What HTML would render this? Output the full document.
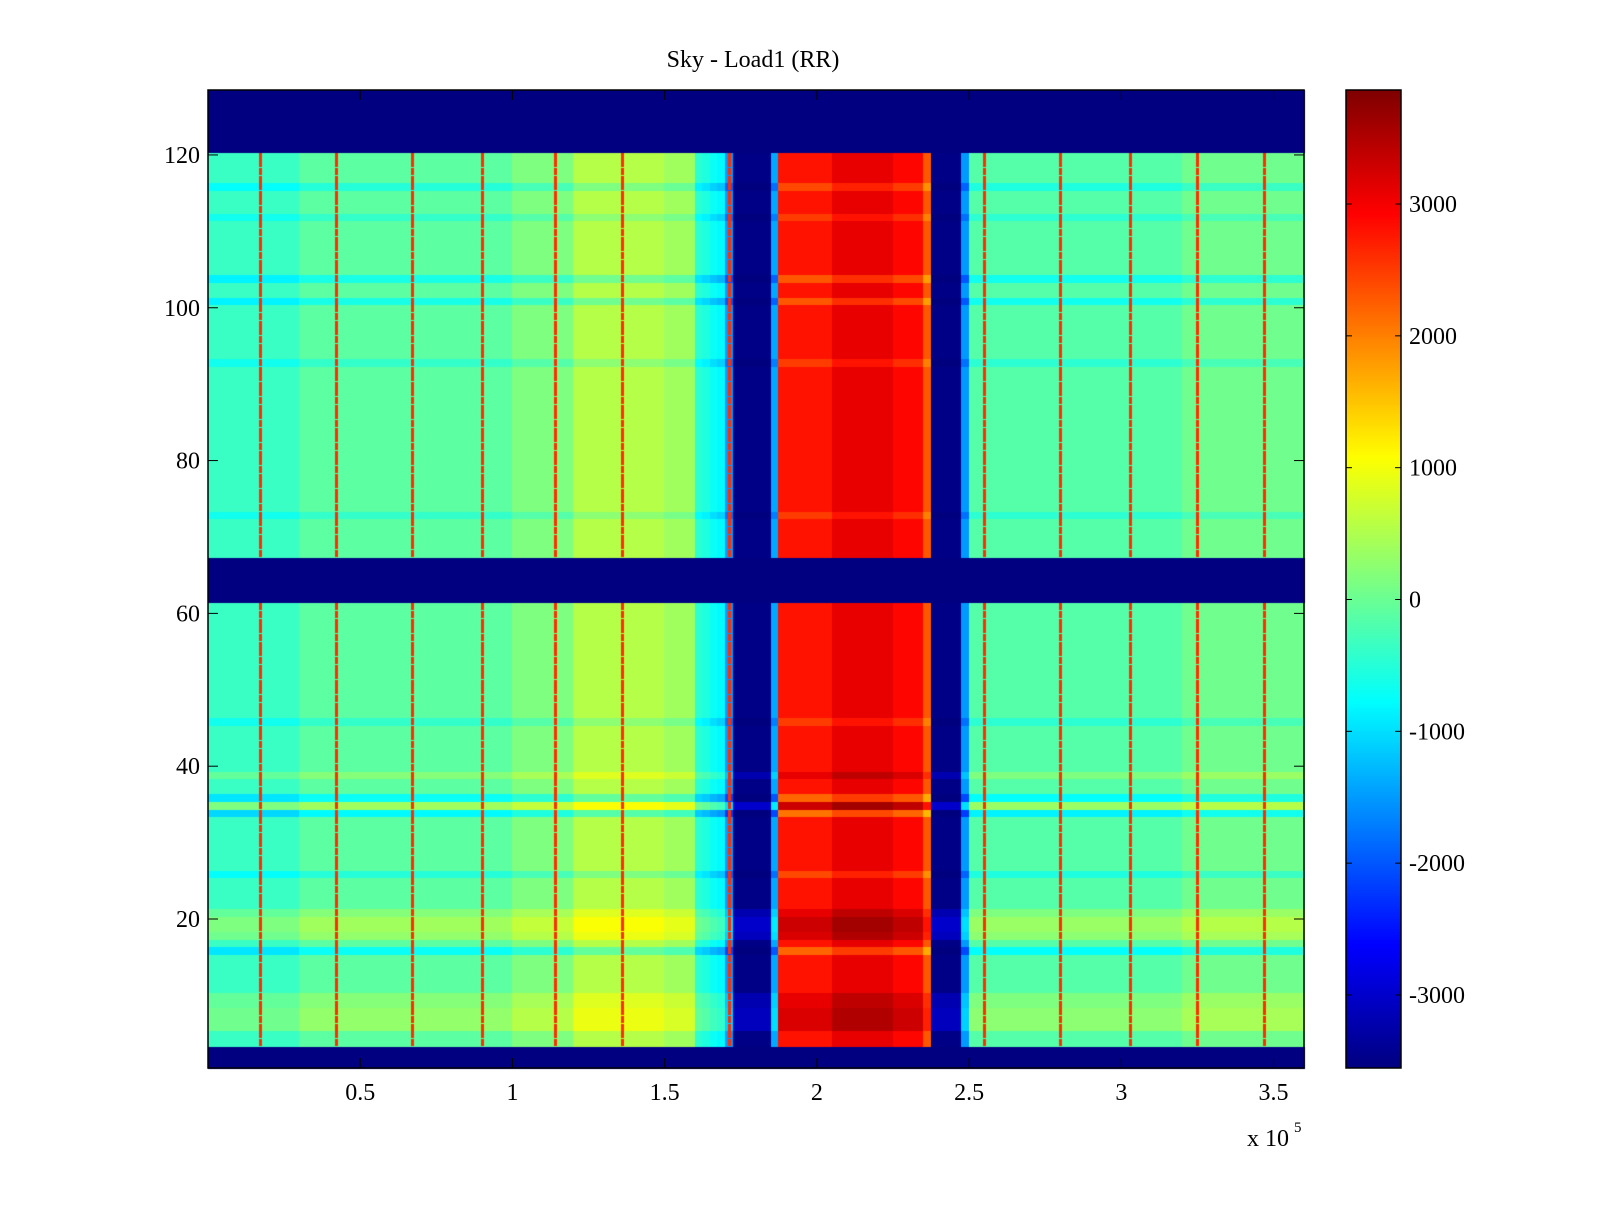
<!DOCTYPE html>
<html><head><meta charset="utf-8"><style>
body{margin:0;background:#fff;width:1600px;height:1200px;overflow:hidden;font-family:"Liberation Serif",serif}
#wrap{position:relative;width:1600px;height:1200px}
</style></head><body>
<div id="wrap">
<canvas id="c" width="1600" height="1200"></canvas>
<svg id="ax" width="1600" height="1200" style="position:absolute;left:0;top:0"></svg>
</div>
<script>
// Data: column profile in 2500-unit bins of x (0..360000), row offsets, masked rows, line positions
const colBinWidth = 2500;
const colProfile = [
-350,-350,-350,-350,-350,-350,-350,-350,-350,-350,-350,-350,
-100,-100,-100,-100,-100,-100,-100,-100,-100,-100,-100,-100,-100,-100,-100,-100,-100,-100,-100,-100,-100,-100,-100,-100,-100,-100,-100,-100,
150,150,150,150,150,150,150,150,
550,550,550,550,550,550,550,550,550,550,550,550,400,400,400,400,
-450,-550,-700,-800,
-1500,-3500,-3500,-3500,-3500,-3500,-1400,
2800,2800,2800,2800,2800,2800,2800,
3100,3100,3100,3100,3100,3100,3100,3100,
2900,2900,2900,2900,2300,
-3500,-3500,-3500,-3500,-1500,
-150,-150,-150,-150,-150,-150,-150,-150,-150,-150,-150,-150,-150,-150,-150,-150,-150,-150,-150,-150,-150,-150,-150,-150,-150,-150,-150,-150,
50,50,50,50,50,50,50,50,50,50,50,50,50,50,50,50];
const maskedRows = [1,2,3,62,63,64,65,66,67,121,122,123,124,125,126,127,128];
const rowOffsetRows = [6,7,8,9,10,16,18,19,20,21,26,34,35,36,39,46,73,93,101,104,112,116];
const rowOffsetVals = [400,400,400,300,300,-600,400,500,500,300,-400,-700,500,-600,300,-300,-300,-300,-500,-500,-300,-400];
const lineX = [17000,42000,67000,90000,114000,136000,171000,255000,280000,303000,325000,347000];
const lineVal = 2600;
const xTicks = [0.5,1,1.5,2,2.5,3,3.5];
const yTicks = [20,40,60,80,100,120];
const cTicks = [-3000,-2000,-1000,0,1000,2000,3000];

const PL=208, PR=1304, PT=90, PB=1068;
const XS=(PR-PL)/360000;
const YS=(PB-PT)/128, Y0=PB+0.5*YS;
const cmin=-3554, cmax=3865, cbL=1346, cbW=55;
const xp=v=>PL+v*XS, yp=r=>Y0-r*YS;
function jet(v){let t=(v-cmin)/(cmax-cmin);t=Math.max(0,Math.min(1,t));
 const f=x=>Math.max(0,Math.min(1,x));
 const r=f(1.5-Math.abs(4*t-3)),g=f(1.5-Math.abs(4*t-2)),b=f(1.5-Math.abs(4*t-1));
 return `rgb(${r*255|0},${g*255|0},${b*255|0})`;}
const ctx=document.getElementById('c').getContext('2d');
const offs={};rowOffsetRows.forEach((r,i)=>offs[r]=rowOffsetVals[i]);
for(let r=1;r<=128;r++){
 const y1=yp(r+0.5),y2=yp(r-0.5);
 const masked=maskedRows.includes(r);
 for(let i=0;i<colProfile.length;i++){
  const v=masked?-3550:colProfile[i]+(offs[r]||0);
  const x1=xp(i*colBinWidth),x2=xp((i+1)*colBinWidth);
  ctx.fillStyle=jet(v);ctx.fillRect(Math.floor(x1),Math.floor(y1),Math.ceil(x2)-Math.floor(x1)+1,Math.ceil(y2)-Math.floor(y1)+1);
 }
 if(!masked){for(const lx of lineX){ctx.fillStyle=jet(lineVal);ctx.fillRect(Math.round(xp(lx))-1,Math.floor(y1),3,Math.ceil(y2-y1)+1);}}
}
for(let y=PT;y<PB;y++){const v=cmax-(y-PT)/(PB-PT)*(cmax-cmin);ctx.fillStyle=jet(v);ctx.fillRect(cbL,y,cbW,1);}
const svg=document.getElementById('ax');const NS='http://www.w3.org/2000/svg';
function add(tag,attrs,name){const e=document.createElementNS(NS,tag);for(const k in attrs)e.setAttribute(k,attrs[k]);
 
 
 svg.appendChild(e);return e;}
add('rect',{x:PL,y:PT,width:PR-PL,height:PB-PT,fill:'none',stroke:'#000','stroke-width':1.5},'plot-frame');
add('rect',{x:cbL,y:PT,width:cbW,height:PB-PT,fill:'none',stroke:'#000','stroke-width':1.5},'colorbar-frame');
function txt(x,y,s,anchor,name,size){const e=add('text',{x:x,y:y,'text-anchor':anchor,'font-family':'Liberation Serif, serif','font-size':size||24},name);e.textContent=s;return e;}
xTicks.forEach(t=>{const x=xp(t*100000);
 add('line',{x1:x,x2:x,y1:PB,y2:PB-10,stroke:'#000'},'x-tick');
 add('line',{x1:x,x2:x,y1:PT,y2:PT+10,stroke:'#000'},'x-tick-top');
 txt(x,1100,String(t),'middle','x-tick-label');});
yTicks.forEach(t=>{const y=yp(t);
 add('line',{x1:PL,x2:PL+10,y1:y,y2:y,stroke:'#000'},'y-tick');
 add('line',{x1:PR,x2:PR-10,y1:y,y2:y,stroke:'#000'},'y-tick-right');
 txt(200,y+8,String(t),'end','y-tick-label');});
cTicks.forEach(t=>{const y=PT+(cmax-t)/(cmax-cmin)*(PB-PT);
 add('line',{x1:cbL,x2:cbL+6,y1:y,y2:y,stroke:'#000'},'colorbar-tick');
 add('line',{x1:cbL+cbW,x2:cbL+cbW-6,y1:y,y2:y,stroke:'#000'},'colorbar-tick-right');
 txt(1409,y+8,String(t),'start','colorbar-tick-label');});
txt(753,67,'Sky - Load1 (RR)','middle','chart-title');
txt(1247,1146,'x 10','start','x-exponent-label');
txt(1294,1132,'5','start','x-exponent-power',15);
</script>
</body></html>
